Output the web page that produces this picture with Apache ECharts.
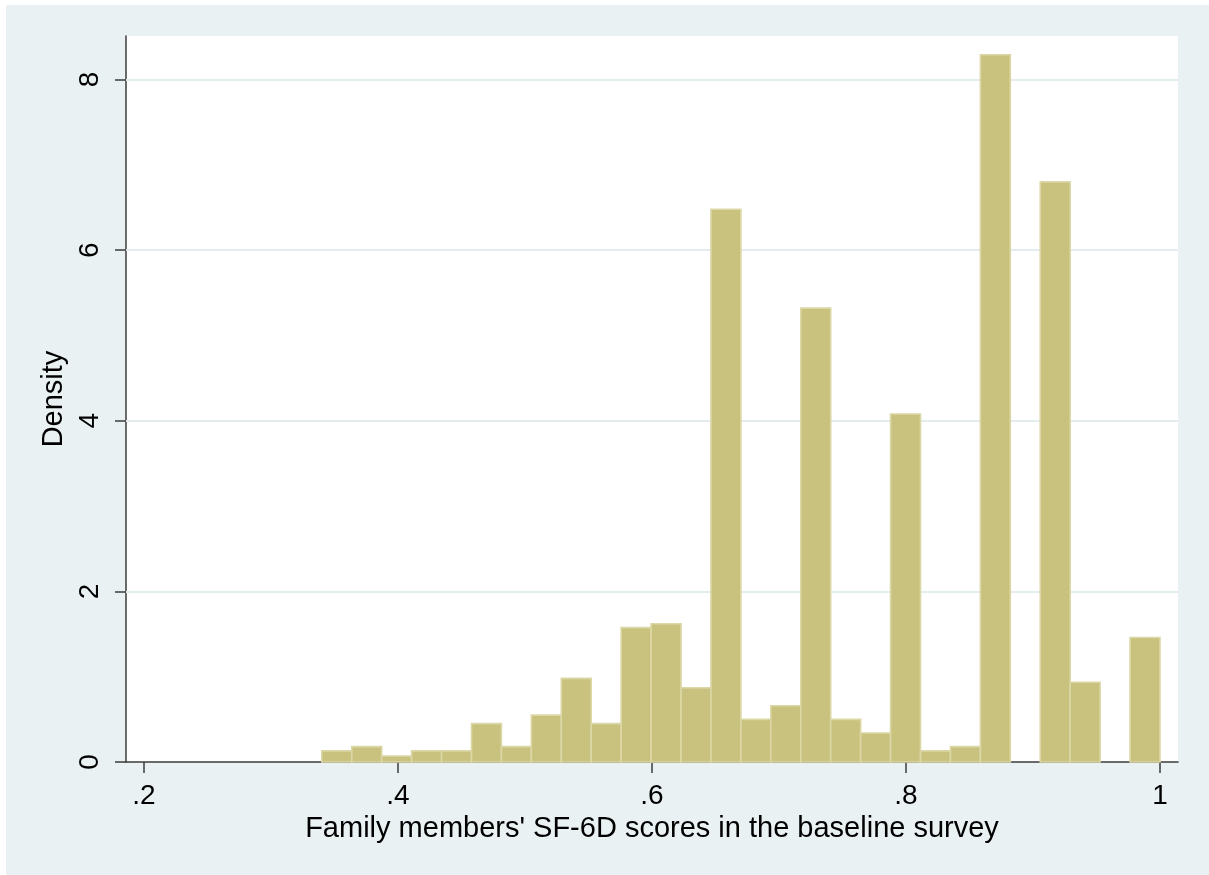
<!DOCTYPE html>
<html>
<head>
<meta charset="utf-8">
<script src="https://cdn.jsdelivr.net/npm/echarts@6/dist/echarts.min.js"></script>
<style>
  html, body { margin: 0; padding: 0; background: #ffffff; }
  #chart { position: absolute; left: 6px; top: 5px; width: 1203px; height: 870px; }
</style>
</head>
<body>
<div id="chart"></div>
<script>
// Histogram of SF-6D scores: 28 equal-width bins from binStart to binEnd
const binStart = 0.34;
const binEnd = 1.0;
const densities = [
  0.13, 0.18, 0.07, 0.13, 0.13, 0.45, 0.18, 0.55, 0.98, 0.45,
  1.575, 1.62, 0.87, 6.48, 0.50, 0.66, 5.32, 0.50, 0.34, 4.08,
  0.13, 0.18, 8.29, 0, 6.80, 0.935, 0, 1.46
];
const xTicks = [0.2, 0.4, 0.6, 0.8, 1.0];
const xTickLabels = ['.2', '.4', '.6', '.8', '1'];
const yTicks = [0, 2, 4, 6, 8];
const yTickLabels = ['0', '2', '4', '6', '8'];
const xTitle = "Family members' SF-6D scores in the baseline survey";
const yTitle = 'Density';

const binWidth = (binEnd - binStart) / densities.length;
const bins = densities.map((d, i) => [binStart + i * binWidth, binStart + (i + 1) * binWidth, d]);

const axisColor = '#3c3c3c';
const font = '"Liberation Sans", Arial, sans-serif';

const chart = echarts.init(document.getElementById('chart'));
chart.setOption({
  backgroundColor: '#e9f1f3',
  animation: false,
  grid: {
    left: 120, right: 31, top: 31, bottom: 113,
    show: true, backgroundColor: '#ffffff', borderWidth: 0
  },
  xAxis: {
    type: 'value',
    min: 0.2 - 18 / 1270,
    max: 1.0 + 18 / 1270,
    name: xTitle,
    nameLocation: 'middle',
    nameGap: 52,
    nameTextStyle: { fontFamily: font, fontSize: 29, color: '#000' },
    axisLine: { show: true, onZero: false, lineStyle: { color: axisColor, width: 1.5 } },
    axisTick: { show: true, length: 11, customValues: xTicks, lineStyle: { color: axisColor, width: 1.5 } },
    axisLabel: {
      customValues: xTicks,
      margin: 20,
      fontFamily: font, fontSize: 28, color: '#000',
      formatter: v => xTickLabels[xTicks.findIndex(t => Math.abs(t - v) < 1e-9)]
    },
    splitLine: { show: false }
  },
  yAxis: {
    type: 'value',
    min: 0,
    max: 8.51,
    name: yTitle,
    nameLocation: 'middle',
    nameGap: 50,
    nameRotate: 90,
    nameTextStyle: { fontFamily: font, fontSize: 29, color: '#000' },
    axisLine: { show: true, lineStyle: { color: axisColor, width: 1.5 } },
    axisTick: { show: true, length: 11, customValues: yTicks, lineStyle: { color: axisColor, width: 1.5 } },
    axisLabel: {
      customValues: yTicks,
      rotate: 90,
      margin: 22,
      fontFamily: font, fontSize: 28, color: '#000',
      formatter: v => yTickLabels[yTicks.findIndex(t => Math.abs(t - v) < 1e-9)]
    },
    splitLine: { show: false }
  },
  series: [
    {
      // horizontal reference lines at the labelled density ticks
      type: 'line',
      data: [],
      silent: true,
      z: 1,
      markLine: {
        z: 1,
        silent: true,
        symbol: 'none',
        label: { show: false },
        lineStyle: { color: '#e3edf0', width: 2, type: 'solid' },
        data: yTicks.filter(t => t > 0).map(t => ({ yAxis: t }))
      }
    },
    {
      type: 'custom',
      z: 3,
      data: bins,
      encode: { x: [0, 1], y: 2 },
      renderItem: function (params, api) {
        const d = api.value(2);
        if (!(d > 0)) return null;
        const p0 = api.coord([api.value(0), 0]);
        const p1 = api.coord([api.value(1), d]);
        return {
          type: 'rect',
          shape: { x: p0[0], y: p1[1], width: p1[0] - p0[0], height: p0[1] - p1[1] },
          style: { fill: '#c9c27e', stroke: '#dcd7a6', lineWidth: 1.6 }
        };
      }
    }
  ]
});
</script>
</body>
</html>
